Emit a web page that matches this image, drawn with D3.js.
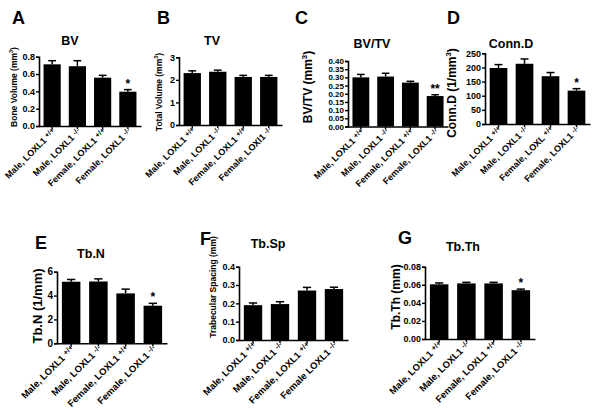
<!DOCTYPE html>
<html><head><meta charset="utf-8">
<script src="https://cdn.jsdelivr.net/npm/d3@7"></script>
<style>body{margin:0;background:#fff}svg{display:block}text{font-family:"Liberation Sans",Arial,sans-serif;font-weight:bold;fill:#000}</style>
</head><body>
<script>
// ---------- DATA ----------
const labelsStd = ["Male, LOXL1 |+/+", "Male, LOXL1 |-/-", "Female, LOXL1 |+/+", "Female, LOXL1 |-/-"];
const labelsB = ["Male, LOXL1 |+/+", "Male, LOXL1 |-/-", "Female, LOXL1 |+/+", "Female, LOXl1 |-/-"];
const labelsD = ["Male, LOXL1 |+/+", "Male, LOXL1 |-/-", "Female, LOXL |+/+", "Female, LOXL1 |-/-"];
const labelsF = ["Male, LOXL1 |+/+", "Male, LOXL1 |-/-", "Female, LOXL1 |+/+", "Female LOXL1 |-/-"];

const bvMean = [0.712, 0.69, 0.558, 0.396];
const bvErr  = [0.042, 0.064, 0.027, 0.024];
const tvMean = [2.30, 2.36, 2.13, 2.13];
const tvErr  = [0.10, 0.07, 0.07, 0.07];
const bvtvMean = [0.300, 0.305, 0.268, 0.186];
const bvtvErr  = [0.018, 0.020, 0.008, 0.008];
const connMean = [198, 213, 169, 118];
const connErr  = [12, 17, 13, 7];
const tbnMean = [5.16, 5.18, 4.18, 3.15];
const tbnErr  = [0.19, 0.22, 0.36, 0.20];
const tbspMean = [0.190, 0.196, 0.270, 0.278];
const tbspErr  = [0.012, 0.013, 0.017, 0.010];
const tbthMean = [0.0605, 0.0615, 0.0615, 0.054];
const tbthErr  = [0.0015, 0.0012, 0.0012, 0.0012];

const bvTicks = [0, 0.2, 0.4, 0.6, 0.8];
const tvTicks = [0, 1, 2, 3];
const bvtvTicks = [0, 0.05, 0.10, 0.15, 0.20, 0.25, 0.30, 0.35, 0.40];
const connTicks = [0, 50, 100, 150, 200, 250];
const tbnTicks = [0, 2, 4, 6];
const tbspTicks = [0, 0.1, 0.2, 0.3, 0.4];
const tbthTicks = [0, 0.02, 0.04, 0.06, 0.08];

const sigA = ["", "", "", "*"];
const sigC = ["", "", "", "**"];
const sigD = ["", "", "", "*"];
const sigE = ["", "", "", "*"];
const sigF = ["", "", "", ""];
const sigG = ["", "", "", "*"];

// ---------- PANELS (layout) ----------
const panels = [
 {letter:"A", lx:12, ly:24, title:"BV", tx:70, ty:45, ylab:"Bone Volume (mm|3|)", ylx:15, yly:87, ylfs:8.5, xfs:9,
  x0:39, x1:141, yTop:56.7, yBot:126, ticks:bvTicks, fmt:".1f", tfs:9, means:bvMean, errs:bvErr, sig:sigA, labels:labelsStd},
 {letter:"B", lx:157, ly:24, title:"TV", tx:212, ty:45, ylab:"Total  Volume (mm|3|)", ylx:160, yly:92, ylfs:8.5, xfs:9,
  x0:179, x1:282, yTop:57.3, yBot:125, ticks:tvTicks, fmt:"d", tfs:9, means:tvMean, errs:tvErr, sig:["","","",""], labels:labelsB},
 {letter:"C", lx:295, ly:24, title:"BV/TV", tx:372, ty:48, ylab:"BV/TV (mm|3|)", ylx:309, yly:87, ylfs:12, xfs:9,
  x0:348, x1:448, yTop:61, yBot:126.5, ticks:bvtvTicks, fmt:".2f", tfs:8, means:bvtvMean, errs:bvtvErr, sig:sigC, labels:labelsStd},
 {letter:"D", lx:447, ly:24, title:"Conn.D", tx:511, ty:48, ylab:"Conn.D (1/mm|3|)", ylx:453, yly:93, ylfs:12, xfs:9,
  x0:485, x1:590, yTop:53.3, yBot:124, ticks:connTicks, fmt:"d", tfs:9, means:connMean, errs:connErr, sig:sigD, labels:labelsD},
 {letter:"E", lx:35, ly:249, title:"Tb.N", tx:91, ty:258, ylab:"Tb.N (1/mm)", ylx:39, yly:306, ylfs:13, xfs:9.5,
  x0:57, x1:167, yTop:271.7, yBot:343.3, ticks:tbnTicks, fmt:"d", tfs:10, means:tbnMean, errs:tbnErr, sig:sigE, labels:labelsStd},
 {letter:"F", lx:200, ly:245, title:"Tb.Sp", tx:268, ty:248, ylab:"Trabecular  Spacing (mm)", ylx:214, yly:287, ylfs:8.5, xfs:9.5,
  x0:239, x1:348, yTop:266.7, yBot:340, ticks:tbspTicks, fmt:".1f", tfs:9, means:tbspMean, errs:tbspErr, sig:sigF, labels:labelsF},
 {letter:"G", lx:398, ly:244, title:"Tb.Th", tx:463, ty:251, ylab:"Tb.Th (mm)", ylx:397, yly:297, ylfs:12, xfs:9.5,
  x0:425, x1:535, yTop:266.7, yBot:339, ticks:tbthTicks, fmt:".2f", tfs:9, means:tbthMean, errs:tbthErr, sig:sigG, labels:labelsStd},
];

const svg = d3.select("body").append("svg").attr("width", 600).attr("height", 410);

panels.forEach(p => {
  const g = svg.append("g");
  const dom = [p.ticks[0], p.ticks[p.ticks.length-1]];
  const y = d3.scaleLinear().domain(dom).range([p.yBot, p.yTop]);
  const x = d3.scaleBand().domain(d3.range(4)).range([p.x0, p.x1]).paddingInner(0.32).paddingOuter(0.18);

  g.append("text").attr("x", p.lx).attr("y", p.ly).attr("font-size", 18).text(p.letter);
  g.append("text").attr("x", p.tx).attr("y", p.ty).attr("text-anchor","middle").attr("font-size", 12.5).text(p.title);

  const yl = g.append("text").attr("transform", `translate(${p.ylx},${p.yly}) rotate(-90)`)
    .attr("text-anchor","middle").attr("dominant-baseline","middle").attr("font-size", p.ylfs);
  const parts = p.ylab.split("|");
  yl.append("tspan").text(parts[0]);
  if (parts.length > 1) {
    yl.append("tspan").attr("font-size", p.ylfs*0.65).attr("dy", -p.ylfs*0.35).text(parts[1]);
    yl.append("tspan").attr("dy", p.ylfs*0.35).text(parts[2]);
  }

  g.selectAll("rect.bar").data(p.means).enter().append("rect")
    .attr("x", (d,i) => x(i)).attr("width", x.bandwidth())
    .attr("y", d => y(d)).attr("height", d => p.yBot - y(d)).attr("fill", "#000");

  const capW = x.bandwidth()*0.45;
  p.means.forEach((m,i) => {
    const cx = x(i) + x.bandwidth()/2;
    g.append("line").attr("x1",cx).attr("x2",cx).attr("y1",y(m)).attr("y2",y(m+p.errs[i])).attr("stroke","#000").attr("stroke-width",1.5);
    g.append("line").attr("x1",cx-capW/2).attr("x2",cx+capW/2).attr("y1",y(m+p.errs[i])).attr("y2",y(m+p.errs[i])).attr("stroke","#000").attr("stroke-width",1.5);
    if (p.sig[i]) {
      g.append("text").attr("x",cx).attr("y",y(m+p.errs[i])-2).attr("text-anchor","middle").attr("font-size",12).text(p.sig[i]);
    }
  });

  const ya = g.append("g").attr("transform", `translate(${p.x0},0)`)
    .call(d3.axisLeft(y).tickValues(p.ticks).tickFormat(d3.format(p.fmt)).tickSize(3).tickPadding(1));
  ya.select(".domain").attr("stroke-width",1.6);
  ya.selectAll(".tick line").attr("stroke-width",1.4);
  ya.selectAll("text").attr("font-size", p.tfs).attr("font-family","Liberation Sans, Arial, sans-serif").attr("font-weight","bold");

  const xa = g.append("g").attr("transform", `translate(0,${p.yBot})`)
    .call(d3.axisBottom(x).tickSize(3).tickSizeOuter(0).tickFormat(""));
  xa.select(".domain").attr("stroke-width",1.6);
  xa.selectAll(".tick line").attr("stroke-width",1.4);

  p.labels.forEach((lab,i) => {
    const cx = x(i) + x.bandwidth()/2;
    const t = g.append("text").attr("transform", `translate(${cx+4},${p.yBot+6}) rotate(-45)`)
      .attr("text-anchor","end").attr("font-size", p.xfs);
    const pp = lab.split("|");
    t.append("tspan").text(pp[0]);
    t.append("tspan").attr("font-size", p.xfs*0.8).attr("dy", -2).text(pp[1]);
  });
});
</script>
</body></html>
